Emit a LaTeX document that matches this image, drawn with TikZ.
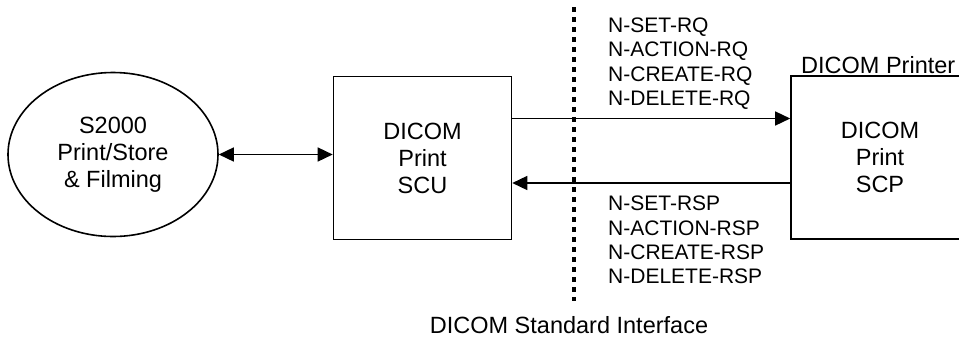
\documentclass[tikz,border=0pt]{standalone}
\usepackage{fontspec}
\setmainfont{Liberation Sans}
\usetikzlibrary{arrows.meta,shapes.geometric}
\begin{document}
\begin{tikzpicture}[x=1pt,y=-1pt,
  mainfont/.style={font=\fontsize{23.5}{27}\selectfont},
  box/.style={draw,line width=1.6pt,minimum width=178pt,minimum height=163pt,align=center,inner sep=0pt,mainfont},
  oval/.style={draw,ellipse,line width=1.6pt,minimum width=210pt,minimum height=164pt,align=center,inner sep=0pt,mainfont},
  conn/.style={line width=1.5pt,-{Triangle[length=15pt,width=14pt]}},
  dconn/.style={line width=1.5pt,{Triangle[length=15pt,width=14pt]}-{Triangle[length=15pt,width=14pt]}},
  msg/.style={align=left,anchor=west,inner sep=0pt,font=\fontsize{21}{24.3}\selectfont},
  lbl/.style={inner sep=0pt,mainfont},
  dotline/.style={line width=4.6pt,dash pattern=on 4.6pt off 5.4pt}]
\useasboundingbox (0,0) rectangle (959,338);
\node[oval] (E) at (113,154.5) {S2000\\Print/Store\\\& Filming};
\node[box] (SCU) at (422.5,158) {DICOM\\Print\\SCU};
\node[box] (SCP) at (880,157.5) {DICOM\\Print\\SCP};
\node[lbl,anchor=base west] (P) at (801,73) {DICOM Printer};
\coordinate (u) at (0,118.5);
\coordinate (l) at (0,183);
\coordinate (dt) at (574,7);
\coordinate (db) at (574,301);
\draw[dotline] (dt) -- (db);
\draw[dconn] (E.east) -- (SCU.west |- E.east);
\draw[conn] (SCU.east |- u) -- (SCP.west |- u);
\draw[conn] (SCP.west |- l) -- (SCU.east |- l);
\node[msg] (RQ) at (608,63.5) {N-SET-RQ\\N-ACTION-RQ\\N-CREATE-RQ\\N-DELETE-RQ};
\node[msg] (RSP) at (608,240) {N-SET-RSP\\N-ACTION-RSP\\N-CREATE-RSP\\N-DELETE-RSP};
\node[lbl] (I) at (569,325) {DICOM Standard Interface};
\end{tikzpicture}
\end{document}
